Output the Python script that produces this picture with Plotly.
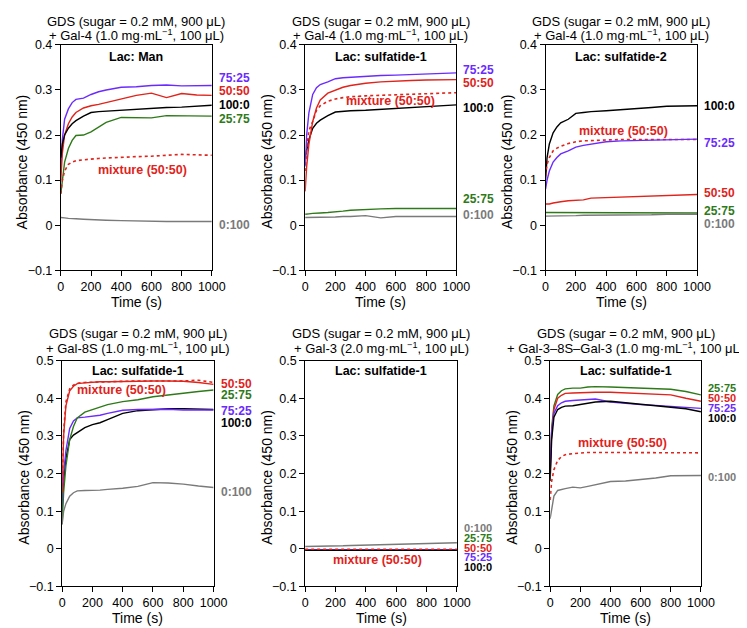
import plotly.graph_objects as go

# ---------------- data ----------------
time_s = [0, 10, 25, 50, 75, 100, 150, 200, 250, 300, 400, 500, 600, 700, 800, 900, 1000]

# Panel A: Gal-4, Lac: Man
a_75_25 = [0.120, 0.190, 0.235, 0.258, 0.272, 0.279, 0.282, 0.290, 0.296, 0.300, 0.306, 0.307, 0.310, 0.311, 0.309, 0.309, 0.310]
a_50_50 = [0.100, 0.160, 0.200, 0.225, 0.240, 0.250, 0.260, 0.265, 0.268, 0.272, 0.280, 0.288, 0.293, 0.283, 0.292, 0.289, 0.288]
a_100_0 = [0.150, 0.180, 0.200, 0.215, 0.225, 0.232, 0.242, 0.250, 0.252, 0.253, 0.256, 0.257, 0.259, 0.261, 0.262, 0.264, 0.266]
a_25_75 = [0.070, 0.100, 0.140, 0.170, 0.188, 0.199, 0.200, 0.207, 0.218, 0.228, 0.239, 0.238, 0.238, 0.243, 0.243, 0.242, 0.242]
a_mix = [0.070, 0.100, 0.120, 0.135, 0.140, 0.143, 0.145, 0.147, 0.148, 0.149, 0.151, 0.152, 0.153, 0.155, 0.157, 0.156, 0.155]
a_0_100 = [0.017, 0.016, 0.016, 0.015, 0.015, 0.014, 0.013, 0.012, 0.011, 0.011, 0.010, 0.009, 0.009, 0.008, 0.008, 0.008, 0.008]

# Panel B: Gal-4, Lac: sulfatide-1
b_75_25 = [0.130, 0.200, 0.250, 0.290, 0.305, 0.312, 0.318, 0.325, 0.327, 0.328, 0.331, 0.332, 0.333, 0.334, 0.335, 0.337, 0.338]
b_50_50 = [0.075, 0.130, 0.180, 0.230, 0.260, 0.278, 0.293, 0.300, 0.306, 0.310, 0.315, 0.318, 0.320, 0.321, 0.322, 0.323, 0.323]
b_mix = [0.120, 0.170, 0.210, 0.230, 0.255, 0.265, 0.275, 0.280, 0.283, 0.285, 0.287, 0.288, 0.289, 0.290, 0.291, 0.293, 0.294]
b_100_0 = [0.150, 0.170, 0.190, 0.215, 0.226, 0.233, 0.243, 0.251, 0.253, 0.254, 0.255, 0.257, 0.260, 0.262, 0.263, 0.265, 0.267]
b_25_75 = [0.024, 0.025, 0.025, 0.026, 0.026, 0.027, 0.028, 0.029, 0.031, 0.033, 0.035, 0.036, 0.037, 0.037, 0.037, 0.037, 0.037]
b_0_100 = [0.017, 0.017, 0.017, 0.017, 0.017, 0.018, 0.018, 0.018, 0.019, 0.019, 0.021, 0.016, 0.019, 0.019, 0.019, 0.019, 0.019]

# Panel C: Gal-4, Lac: sulfatide-2
c_100_0 = [0.100, 0.150, 0.180, 0.205, 0.218, 0.227, 0.235, 0.248, 0.250, 0.252, 0.254, 0.256, 0.259, 0.261, 0.264, 0.265, 0.265]
c_mix = [0.110, 0.135, 0.150, 0.165, 0.171, 0.175, 0.181, 0.185, 0.187, 0.188, 0.189, 0.190, 0.190, 0.190, 0.190, 0.190, 0.190]
c_75_25 = [0.080, 0.100, 0.120, 0.140, 0.150, 0.158, 0.165, 0.173, 0.177, 0.180, 0.185, 0.187, 0.188, 0.189, 0.189, 0.190, 0.191]
c_50_50 = [0.047, 0.047, 0.047, 0.049, 0.051, 0.052, 0.054, 0.055, 0.056, 0.060, 0.061, 0.062, 0.064, 0.065, 0.066, 0.067, 0.068]
c_25_75 = [0.028, 0.028, 0.028, 0.028, 0.028, 0.028, 0.028, 0.027, 0.027, 0.027, 0.027, 0.027, 0.027, 0.027, 0.027, 0.027, 0.027]
c_0_100 = [0.020, 0.020, 0.020, 0.020, 0.021, 0.021, 0.021, 0.021, 0.022, 0.022, 0.022, 0.023, 0.023, 0.023, 0.024, 0.024, 0.024]

# Panel D: Gal-8S, Lac: sulfatide-1
d_50_50 = [0.150, 0.300, 0.380, 0.420, 0.432, 0.439, 0.441, 0.443, 0.444, 0.444, 0.445, 0.446, 0.446, 0.446, 0.445, 0.442, 0.437]
d_mix = [0.150, 0.310, 0.390, 0.425, 0.435, 0.440, 0.442, 0.443, 0.444, 0.445, 0.445, 0.446, 0.446, 0.446, 0.446, 0.448, 0.442]
d_25_75 = [0.065, 0.150, 0.220, 0.290, 0.325, 0.348, 0.363, 0.370, 0.377, 0.383, 0.391, 0.396, 0.404, 0.409, 0.413, 0.418, 0.422]
d_75_25 = [0.100, 0.200, 0.260, 0.320, 0.340, 0.348, 0.350, 0.352, 0.355, 0.360, 0.368, 0.370, 0.371, 0.371, 0.369, 0.369, 0.369]
d_100_0 = [0.100, 0.180, 0.240, 0.290, 0.302, 0.309, 0.322, 0.330, 0.335, 0.343, 0.360, 0.367, 0.370, 0.372, 0.372, 0.370, 0.370]
d_0_100 = [0.065, 0.100, 0.120, 0.140, 0.149, 0.154, 0.155, 0.155, 0.156, 0.158, 0.161, 0.166, 0.176, 0.175, 0.172, 0.167, 0.163]

# Panel E: Gal-3, Lac: sulfatide-1
e_0_100 = [0.006, 0.006, 0.006, 0.006, 0.006, 0.007, 0.007, 0.008, 0.008, 0.009, 0.010, 0.011, 0.012, 0.013, 0.014, 0.015, 0.016]
e_25_75 = [-0.002] * 17
e_50_50 = [-0.002] * 17
e_mix = [-0.001] * 17
e_75_25 = [-0.003] * 17
e_100_0 = [-0.004] * 17

# Panel F: Gal-3-8S-Gal-3, Lac: sulfatide-1
f_25_75 = [0.200, 0.320, 0.380, 0.410, 0.420, 0.425, 0.427, 0.427, 0.430, 0.431, 0.430, 0.428, 0.426, 0.425, 0.424, 0.418, 0.409]
f_50_50 = [0.200, 0.310, 0.370, 0.400, 0.408, 0.413, 0.414, 0.415, 0.416, 0.416, 0.416, 0.414, 0.412, 0.411, 0.409, 0.400, 0.392]
f_75_25 = [0.220, 0.310, 0.360, 0.380, 0.388, 0.392, 0.394, 0.395, 0.397, 0.398, 0.390, 0.386, 0.383, 0.381, 0.379, 0.376, 0.373]
f_100_0 = [0.180, 0.290, 0.350, 0.370, 0.376, 0.379, 0.380, 0.383, 0.387, 0.390, 0.392, 0.388, 0.384, 0.380, 0.376, 0.372, 0.364]
f_mix = [0.130, 0.180, 0.210, 0.235, 0.245, 0.250, 0.253, 0.255, 0.256, 0.256, 0.256, 0.256, 0.256, 0.256, 0.256, 0.255, 0.255]
f_0_100 = [0.080, 0.110, 0.140, 0.155, 0.158, 0.160, 0.164, 0.162, 0.166, 0.170, 0.179, 0.180, 0.183, 0.188, 0.194, 0.195, 0.195]

title_line1 = "GDS (sugar = 0.2 mM, 900 μL)"
title_line2 = [
    "+ Gal-4 (1.0 mg·mL<sup>−1</sup>, 100 μL)",
    "+ Gal-4 (1.0 mg·mL<sup>−1</sup>, 100 μL)",
    "+ Gal-4 (1.0 mg·mL<sup>−1</sup>, 100 μL)",
    "+ Gal-8S (1.0 mg·mL<sup>−1</sup>, 100 μL)",
    "+ Gal-3 (2.0 mg·mL<sup>−1</sup>, 100 μL)",
    "+ Gal-3–8S–Gal-3 (1.0 mg·mL<sup>−1</sup>, 100 μL)",
]
subtitles = ["Lac: Man", "Lac: sulfatide-1", "Lac: sulfatide-2",
             "Lac: sulfatide-1", "Lac: sulfatide-1", "Lac: sulfatide-1"]
y_max = [0.4, 0.4, 0.4, 0.5, 0.5, 0.5]
x_ticks = [0, 200, 400, 600, 800, 1000]

# right-hand labels: (text, y, colour key)
end_labels = [
    [("75:25", 0.326, "blue"), ("50:50", 0.297, "red"), ("100:0", 0.266, "black"), ("25:75", 0.236, "green"), ("0:100", 0.0, "gray")],
    [("75:25", 0.345, "blue"), ("50:50", 0.316, "red"), ("100:0", 0.261, "black"), ("25:75", 0.057, "green"), ("0:100", 0.022, "gray")],
    [("100:0", 0.265, "black"), ("75:25", 0.183, "blue"), ("50:50", 0.071, "red"), ("25:75", 0.031, "green"), ("0:100", 0.003, "gray")],
    [("50:50", 0.439, "red"), ("25:75", 0.409, "green"), ("75:25", 0.367, "blue"), ("100:0", 0.335, "black"), ("0:100", 0.152, "gray")],
    [("0:100", 0.056, "gray"), ("25:75", 0.029, "green"), ("50:50", 0.003, "red"), ("75:25", -0.023, "blue"), ("100:0", -0.049, "black")],
    [("25:75", 0.426, "green"), ("50:50", 0.400, "red"), ("75:25", 0.374, "blue"), ("100:0", 0.348, "black"), ("0:100", 0.192, "gray")],
]
end_label_size = [12, 12, 12, 12, 11, 11]
# mixture label: (time, absorbance)
mix_label_pos = [(543, 0.123), (565, 0.276), (516, 0.210), (394, 0.422), (476, -0.031), (477, 0.281)]

# ---------------- styling ----------------
COL = {"blue": "#6B2BFF", "red": "#E0231B", "black": "#000000", "green": "#2E7A18", "gray": "#7A7A7A"}
FONT = "Liberation Sans, Arial, Helvetica, sans-serif"

W, H = 747, 628
# pixel boxes of the six plot areas: (left, right, top, bottom)
boxes = [
    (51, 205.5, 30.6, 261), (301, 455.7, 30.6, 261), (547, 702, 30.6, 261),
    (52.3, 207.3, 353.5, 584.5), (301, 456.3, 353.5, 584.5), (551.7, 706, 353.5, 584.5),
]

panels = [
    [(a_75_25, "blue", "solid"), (a_50_50, "red", "solid"), (a_100_0, "black", "solid"), (a_25_75, "green", "solid"), (a_mix, "red", "dot"), (a_0_100, "gray", "solid")],
    [(b_100_0, "black", "solid"), (b_mix, "red", "dot"), (b_50_50, "red", "solid"), (b_75_25, "blue", "solid"), (b_25_75, "green", "solid"), (b_0_100, "gray", "solid")],
    [(c_100_0, "black", "solid"), (c_mix, "red", "dot"), (c_75_25, "blue", "solid"), (c_50_50, "red", "solid"), (c_25_75, "green", "solid"), (c_0_100, "gray", "solid")],
    [(d_100_0, "black", "solid"), (d_75_25, "blue", "solid"), (d_25_75, "green", "solid"), (d_mix, "red", "dot"), (d_50_50, "red", "solid"), (d_0_100, "gray", "solid")],
    [(e_0_100, "gray", "solid"), (e_25_75, "green", "solid"), (e_50_50, "red", "solid"), (e_75_25, "blue", "solid"), (e_100_0, "black", "solid"), (e_mix, "red", "dot")],
    [(f_25_75, "green", "solid"), (f_50_50, "red", "solid"), (f_75_25, "blue", "solid"), (f_100_0, "black", "solid"), (f_mix, "red", "dot"), (f_0_100, "gray", "solid")],
]

fig = go.Figure()
layout = dict(width=W, height=H, margin=dict(l=0, r=0, t=0, b=0),
              paper_bgcolor="white", plot_bgcolor="white", showlegend=False,
              font=dict(family=FONT, color="black"))
annotations = []

for i, (series, box) in enumerate(zip(panels, boxes)):
    n = "" if i == 0 else str(i + 1)
    xa, ya = "x" + n, "y" + n
    l, r, t, b = box
    axis_common = dict(showline=True, linecolor="black", linewidth=1, mirror=True,
                       ticks="outside", ticklen=5, tickwidth=1, tickcolor="black",
                       showgrid=False, zeroline=False,
                       tickfont=dict(family=FONT, size=12.5, color="black"))
    layout["xaxis" + n] = dict(domain=[l / W, r / W], anchor=ya, range=[0, 1000],
                               tickvals=x_ticks, **axis_common)
    layout["yaxis" + n] = dict(domain=[1 - b / H, 1 - t / H], anchor=xa,
                               range=[-0.1, y_max[i]], dtick=0.1, tick0=0, **axis_common)
    for vals, ck, dash in series:
        fig.add_trace(go.Scatter(x=time_s, y=vals, mode="lines", xaxis=xa, yaxis=ya,
                                 line=dict(color=COL[ck], width=1.4 if dash == "solid" else 1.6, dash=dash),
                                 hoverinfo="skip"))
    xd, yd = xa + " domain", ya + " domain"
    top_shift = [23.5, 9.5] if i < 3 else [27.5, 12.5]
    annotations.append(dict(text=title_line1, xref=xd, yref=yd, x=0.5, y=1, yshift=top_shift[0],
                            xanchor="center", yanchor="middle", showarrow=False,
                            font=dict(family=FONT, size=13)))
    annotations.append(dict(text=title_line2[i], xref=xd, yref=yd, x=0.5, y=1, yshift=top_shift[1],
                            xanchor="center", yanchor="middle", showarrow=False,
                            font=dict(family=FONT, size=13)))
    annotations.append(dict(text="<b>" + subtitles[i] + "</b>", xref=xd, yref=yd, x=0.5, y=1,
                            yshift=-12.5 if i < 3 else -10, xanchor="center", yanchor="middle",
                            showarrow=False, font=dict(family=FONT, size=12.5)))
    annotations.append(dict(text="Absorbance (450 nm)", xref=xd, yref=yd, x=0, y=0.5, xshift=-39,
                            yshift=-4, textangle=-90, xanchor="center", yanchor="middle",
                            showarrow=False, font=dict(family=FONT, size=14)))
    annotations.append(dict(text="Time (s)", xref=xd, yref=yd, x=0.5, y=0, yshift=-32,
                            xanchor="center", yanchor="middle", showarrow=False,
                            font=dict(family=FONT, size=14)))
    for txt, yv, ck in end_labels[i]:
        annotations.append(dict(text="<b>" + txt + "</b>", xref=xd, yref=ya, x=1, y=yv, xshift=5,
                                xanchor="left", yanchor="middle", showarrow=False,
                                font=dict(family=FONT, size=end_label_size[i], color=COL[ck])))
    mx, my = mix_label_pos[i]
    annotations.append(dict(text="<b>mixture (50:50)</b>", xref=xa, yref=ya, x=mx, y=my,
                            xanchor="center", yanchor="middle", showarrow=False,
                            font=dict(family=FONT, size=12.5, color=COL["red"])))

layout["annotations"] = annotations
fig.update_layout(**layout)
fig.write_html("out.html")
